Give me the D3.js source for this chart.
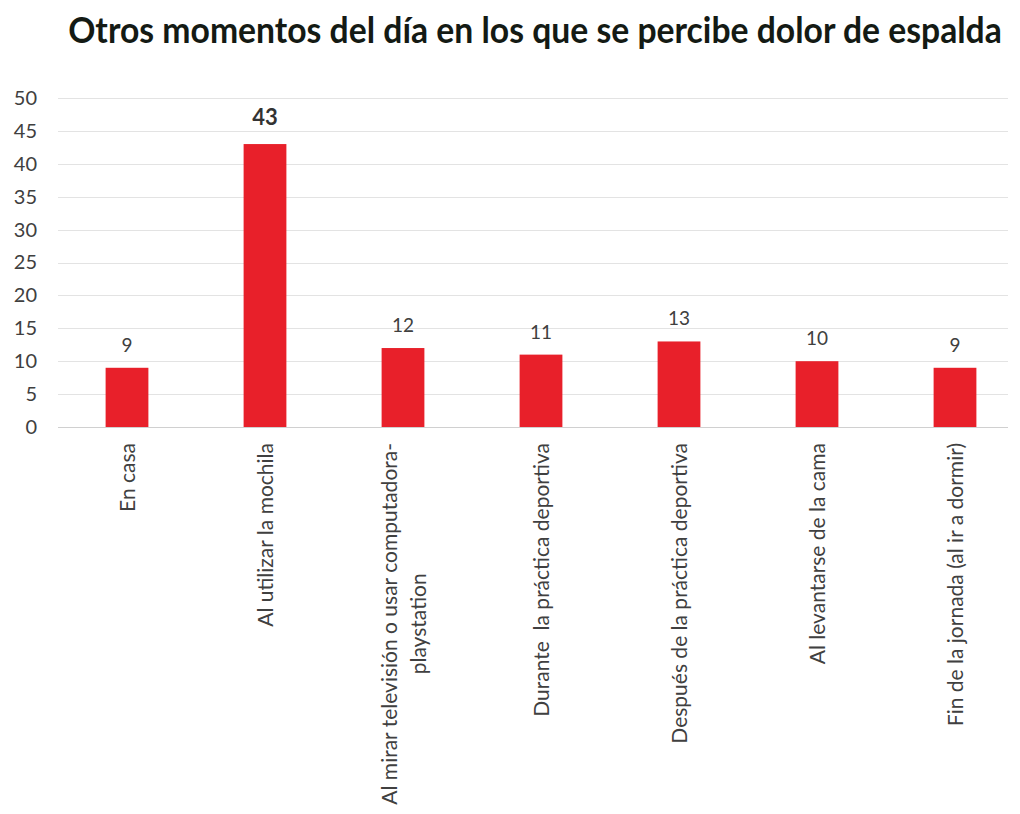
<!DOCTYPE html>
<html>
<head>
  <meta charset="UTF-8">
  <title>Otros momentos del día</title>
  <script src="https://cdn.jsdelivr.net/npm/d3@7"></script>
  <style>
    body { margin: 0; background: #fff; }
    svg text { font-family: Lato, "Open Sans", sans-serif; }
  </style>
</head>
<body>
<svg id="chart"></svg>
<script>
// Data
var categories = [
  "En casa",
  "Al utilizar la mochila",
  "Al mirar televisión o usar computadora-|playstation",
  "Durante  la práctica deportiva",
  "Después de la práctica deportiva",
  "Al levantarse de la cama",
  "Fin de la jornada (al ir a dormir)"
];
var values = [9, 43, 12, 11, 13, 10, 9];
var yTicks = [0, 5, 10, 15, 20, 25, 30, 35, 40, 45, 50];

var width = 1020, height = 814;

var svg = d3.select("#chart")
  .attr("width", width)
  .attr("height", height);

var x = d3.scaleBand()
  .domain(categories)
  .range([58, 1024])
  .paddingInner(0.69)
  .paddingOuter(0.345);

var y = d3.scaleLinear()
  .domain([0, 50])
  .range([427, 98]);

// title (tall, condensed look of the original) - squeeze it horizontally
var title = svg.append("text")
  .attr("x", 0)
  .attr("y", 0)
  .attr("text-anchor", "middle")
  .attr("font-size", 37)
  .attr("font-weight", "bold")
  .attr("fill", "#141a14")
  .text("Otros momentos del día en los que se percibe dolor de espalda");
var titleW = title.node().getComputedTextLength();
title.attr("transform", "translate(535,43) scale(" + (934 / titleW) + ",1)");

// gridlines
svg.append("g")
  .selectAll("line")
  .data(yTicks)
  .enter().append("line")
  .attr("x1", 58)
  .attr("x2", 1008)
  .attr("y1", function(d) { return Math.round(y(d)) + 0.5; })
  .attr("y2", function(d) { return Math.round(y(d)) + 0.5; })
  .attr("stroke", function(d) { return d === 0 ? "#d0d0d0" : "#e3e3e3"; })
  .attr("stroke-width", 1);

// y axis labels
var yAxis = svg.append("g")
  .attr("transform", "translate(37,0)")
  .call(d3.axisLeft(y).tickValues(yTicks).tickSize(0).tickPadding(0));
yAxis.select(".domain").remove();
yAxis.selectAll("text")
  .attr("font-size", 20)
  .attr("fill", "#404040")
  .style("font-family", "Lato, sans-serif");

// bars
svg.append("g")
  .selectAll("rect")
  .data(values)
  .enter().append("rect")
  .attr("x", function(d, i) { return x(categories[i]); })
  .attr("y", function(d) { return y(d); })
  .attr("width", x.bandwidth())
  .attr("height", function(d) { return y(0) - y(d); })
  .attr("fill", "#e8202a");

// value labels
var maxVal = d3.max(values);
svg.append("g")
  .selectAll("text")
  .data(values)
  .enter().append("text")
  .attr("x", function(d, i) { return x(categories[i]) + x.bandwidth() / 2; })
  .attr("y", function(d) { return y(d) - (d === maxVal ? 19 : 16); })
  .attr("text-anchor", "middle")
  .attr("font-size", function(d) { return d === maxVal ? 22 : 19; })
  .attr("font-weight", function(d) { return d === maxVal ? "bold" : "normal"; })
  .attr("fill", function(d) { return d === maxVal ? "#333" : "#404040"; })
  .text(function(d) { return d; });

// category labels, rotated
var lineGap = 29;
var cat = svg.append("g")
  .selectAll("g")
  .data(categories)
  .enter().append("g")
  .attr("transform", function(d) {
    return "translate(" + (x(d) + x.bandwidth() / 2) + ",443) rotate(-90)";
  });

cat.each(function(d) {
  var lines = d.split("|");
  var g = d3.select(this);
  var n = lines.length;
  // first line sets the block length, later lines are centred on it
  var first = g.append("text")
    .attr("x", 0)
    .attr("y", (0 - (n - 1) / 2) * lineGap + 8)
    .attr("text-anchor", "end")
    .attr("font-size", 21)
    .attr("fill", "#404040")
    .style("white-space", "pre")
    .text(lines[0]);
  var w = first.node().getComputedTextLength();
  for (var k = 1; k < n; k++) {
    g.append("text")
      .attr("x", -w / 2)
      .attr("y", (k - (n - 1) / 2) * lineGap + 8)
      .attr("text-anchor", "middle")
      .attr("font-size", 21)
      .attr("fill", "#404040")
      .text(lines[k]);
  }
});
</script>
</body>
</html>
